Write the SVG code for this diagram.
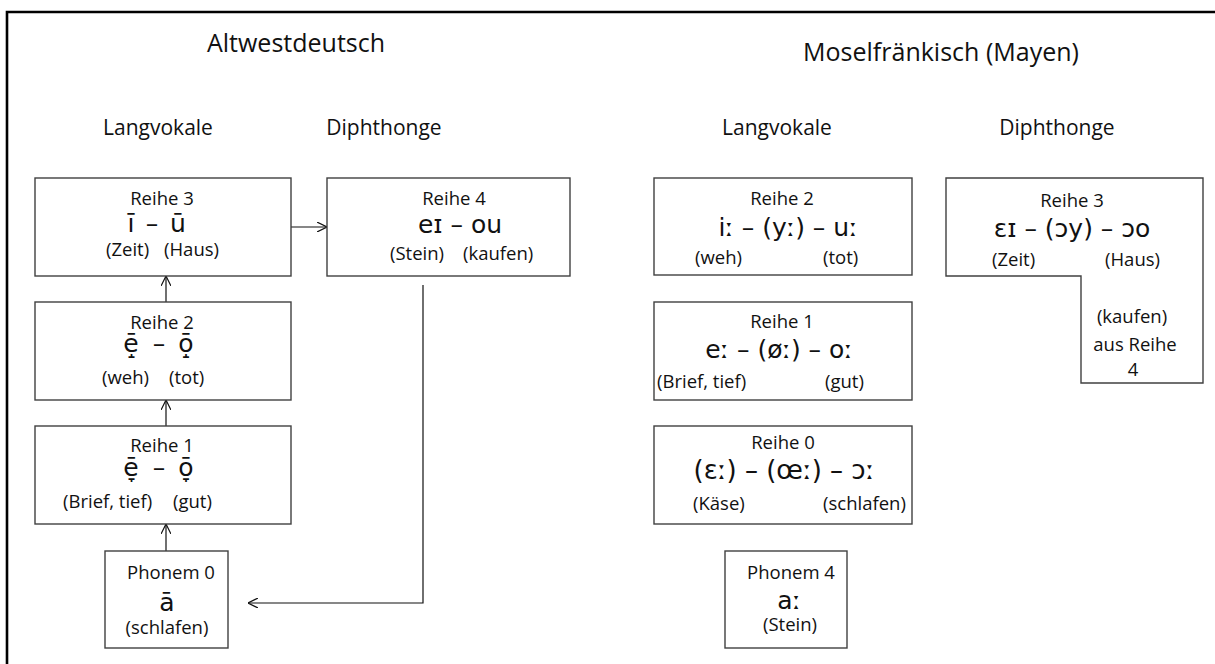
<svg xmlns="http://www.w3.org/2000/svg" width="1215" height="664" viewBox="0 0 1215 664">
<defs>
<style>
.t{font-family:"Open Sans","Noto Sans","DejaVu Sans",sans-serif;fill:#111;}
.h{font-size:25px;text-anchor:middle;}
.s{font-size:21px;text-anchor:middle;}
.r{font-size:18.5px;text-anchor:middle;}
.w{font-size:18.5px;}
.ipa{font-family:"DejaVu Sans","Noto Sans",sans-serif;font-size:25px;fill:#111;text-anchor:middle;}
.box{fill:#fff;stroke:#404040;stroke-width:1.4;}
.con{fill:none;stroke:#111;stroke-width:1.2;}
</style>
<marker id="ah" viewBox="0 0 10 10" refX="10" refY="5" markerWidth="10" markerHeight="10" markerUnits="userSpaceOnUse" orient="auto">
<path d="M0,0 L10,5 L0,10" fill="none" stroke="#111" stroke-width="1.2"/>
</marker>
</defs>
<rect width="1215" height="664" fill="#fff"/>
<path d="M7,672 V12 H1225" fill="none" stroke="#000" stroke-width="2.6"/>

<g id="headers">
<text class="t h" x="296" y="52">Altwestdeutsch</text>
<text class="t h" x="941" y="61">Moselfränkisch (Mayen)</text>
<text class="t s" x="158" y="135">Langvokale</text>
<text class="t s" x="384" y="135">Diphthonge</text>
<text class="t s" x="777" y="135">Langvokale</text>
<text class="t s" x="1057" y="135">Diphthonge</text>
</g>

<g id="connectors">
<line class="con" x1="291" y1="227" x2="327" y2="227" marker-end="url(#ah)"/>
<line class="con" x1="166" y1="302" x2="166" y2="276" marker-end="url(#ah)"/>
<line class="con" x1="166" y1="426" x2="166" y2="400" marker-end="url(#ah)"/>
<line class="con" x1="166" y1="551" x2="166" y2="524" marker-end="url(#ah)"/>
<path class="con" d="M423,285 V603 H248" marker-end="url(#ah)"/>
</g>

<g id="aw-reihe3">
<rect class="box" x="35" y="178" width="256" height="98"/>
<text class="t r" x="162" y="205">Reihe 3</text>
<text class="ipa" x="131" y="232">ī</text>
<text class="ipa" x="152" y="232">–</text>
<text class="ipa" x="178" y="232">ū</text>
<text class="t w" x="106" y="256">(Zeit)</text>
<text class="t w" x="164" y="256">(Haus)</text>
</g>

<g id="aw-reihe4">
<rect class="box" x="327" y="178" width="243" height="98"/>
<text class="t r" x="454" y="205">Reihe 4</text>
<text class="ipa" x="460" y="233">eɪ – ou</text>
<text class="t w" x="390" y="260">(Stein)</text>
<text class="t w" x="463" y="260">(kaufen)</text>
</g>

<g id="aw-reihe2">
<rect class="box" x="35" y="302" width="256" height="98"/>
<text class="t r" x="162" y="329">Reihe 2</text>
<text class="ipa" x="131" y="352">ē̝</text>
<text class="ipa" x="159" y="352">–</text>
<text class="ipa" x="186" y="352">ō̝</text>
<text class="t w" x="102" y="384">(weh)</text>
<text class="t w" x="169" y="384">(tot)</text>
</g>

<g id="aw-reihe1">
<rect class="box" x="35" y="426" width="256" height="98"/>
<text class="t r" x="162" y="452">Reihe 1</text>
<text class="ipa" x="131" y="476">ē̞</text>
<text class="ipa" x="159" y="476">–</text>
<text class="ipa" x="186" y="476">ō̞</text>
<text class="t w" x="63" y="508">(Brief, tief)</text>
<text class="t w" x="173" y="508">(gut)</text>
</g>

<g id="aw-phonem0">
<rect class="box" x="105" y="551" width="123" height="97"/>
<text class="t r" x="171" y="579">Phonem 0</text>
<text class="ipa" x="167" y="611">ā</text>
<text class="t r" x="167" y="634">(schlafen)</text>
</g>

<g id="mf-reihe2">
<rect class="box" x="654" y="178" width="258" height="97"/>
<text class="t r" x="782" y="205">Reihe 2</text>
<text class="ipa" x="788" y="236">iː – (yː) – uː</text>
<text class="t w" x="695" y="264">(weh)</text>
<text class="t w" x="823" y="264">(tot)</text>
</g>

<g id="mf-reihe1">
<rect class="box" x="654" y="302" width="258" height="98"/>
<text class="t r" x="782" y="328">Reihe 1</text>
<text class="ipa" x="779" y="358">eː – (øː) – oː</text>
<text class="t w" x="657" y="388">(Brief, tief)</text>
<text class="t w" x="825" y="388">(gut)</text>
</g>

<g id="mf-reihe0">
<rect class="box" x="654" y="426" width="258" height="98"/>
<text class="t r" x="783" y="449">Reihe 0</text>
<text class="ipa" x="784" y="479" style="font-size:26px">(ɛː) – (œː) – ɔː</text>
<text class="t w" x="693" y="510">(Käse)</text>
<text class="t w" x="823" y="510">(schlafen)</text>
</g>

<g id="mf-phonem4">
<rect class="box" x="725" y="551" width="122" height="97"/>
<text class="t r" x="791" y="579">Phonem 4</text>
<text class="ipa" x="789" y="609">aː</text>
<text class="t r" x="790" y="631">(Stein)</text>
</g>

<g id="mf-reihe3">
<path class="box" d="M946,178 H1203 V383 H1081 V276 H946 Z"/>
<text class="t r" x="1072" y="207">Reihe 3</text>
<text class="ipa" x="1072" y="237">ɛɪ – (ɔy) – ɔo</text>
<text class="t w" x="992" y="266">(Zeit)</text>
<text class="t w" x="1105" y="266">(Haus)</text>
<text class="t r" x="1132" y="323">(kaufen)</text>
<text class="t r" x="1135" y="351">aus Reihe</text>
<text class="t r" x="1133" y="376">4</text>
</g>
</svg>
